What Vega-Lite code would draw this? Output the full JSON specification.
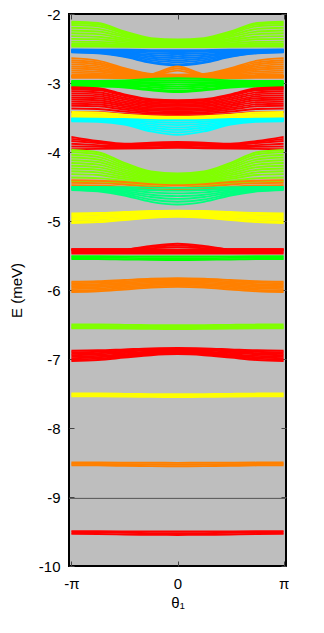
{
"$schema": "https://vega.github.io/schema/vega-lite/v6.json",
"width": 217, "height": 552,
"autosize": {"type": "none"},
"padding": {"left": 69, "top": 14, "right": 38, "bottom": 67},
"background": "white",
"config": {
  "view": {"fill": "#bebebe", "stroke": "#000", "strokeWidth": 2},
  "font": "Liberation Sans",
  "axis": {"grid": false, "domain": false, "tickColor": "#444", "tickSize": 5, "tickWidth": 1, "labelFontSize": 15, "labelColor": "#000", "titleFontSize": 15, "titleFontWeight": "normal", "titleColor": "#000", "labelFont": "Liberation Sans", "titleFont": "Liberation Sans"}
},
"datasets": {
"zero": [{"E": -9.02}],
"bands": [
{"k":"T1","band":"chartreuse","a":-2.11,"b":-2.131,"c":-2.253,"d":-2.349,"e":-2.37,"f":-2.349,"g":-2.253,"h":-2.131,"i":-2.11},
{"k":"T2","band":"chartreuse","a":-2.13,"b":-2.15,"c":-2.268,"d":-2.36,"e":-2.38,"f":-2.36,"g":-2.268,"h":-2.15,"i":-2.13},
{"k":"T3","band":"chartreuse","a":-2.16,"b":-2.178,"c":-2.286,"d":-2.372,"e":-2.39,"f":-2.372,"g":-2.286,"h":-2.178,"i":-2.16},
{"k":"T4","band":"chartreuse","a":-2.2,"b":-2.216,"c":-2.31,"d":-2.384,"e":-2.4,"f":-2.384,"g":-2.31,"h":-2.216,"i":-2.2},
{"k":"T5","band":"chartreuse","a":-2.24,"b":-2.254,"c":-2.33,"d":-2.396,"e":-2.41,"f":-2.396,"g":-2.33,"h":-2.254,"i":-2.24},
{"k":"T6","band":"chartreuse","a":-2.28,"b":-2.291,"c":-2.357,"d":-2.409,"e":-2.42,"f":-2.409,"g":-2.357,"h":-2.291,"i":-2.28},
{"k":"T7","band":"chartreuse","a":-2.32,"b":-2.329,"c":-2.38,"d":-2.421,"e":-2.43,"f":-2.421,"g":-2.38,"h":-2.329,"i":-2.32},
{"k":"T8","band":"chartreuse","a":-2.36,"b":-2.366,"c":-2.404,"d":-2.434,"e":-2.44,"f":-2.434,"g":-2.404,"h":-2.366,"i":-2.36},
{"k":"T9","band":"chartreuse","a":-2.4,"b":-2.404,"c":-2.428,"d":-2.446,"e":-2.45,"f":-2.446,"g":-2.428,"h":-2.404,"i":-2.4},
{"k":"T10","band":"chartreuse","a":-2.43,"b":-2.432,"c":-2.45,"d":-2.458,"e":-2.46,"f":-2.458,"g":-2.45,"h":-2.432,"i":-2.43},
{"k":"T11","band":"chartreuse","a":-2.45,"b":-2.452,"c":-2.461,"d":-2.468,"e":-2.47,"f":-2.468,"g":-2.461,"h":-2.452,"i":-2.45},
{"k":"T12","band":"chartreuse","a":-2.47,"b":-2.471,"c":-2.475,"d":-2.479,"e":-2.48,"f":-2.479,"g":-2.475,"h":-2.471,"i":-2.47},
{"k":"B1","band":"azure","a":-2.515,"b":-2.516,"c":-2.519,"d":-2.523,"e":-2.525,"f":-2.523,"g":-2.519,"h":-2.516,"i":-2.515},
{"k":"B2","band":"azure","a":-2.52,"b":-2.522,"c":-2.531,"d":-2.544,"e":-2.55,"f":-2.544,"g":-2.531,"h":-2.522,"i":-2.52},
{"k":"B3","band":"azure","a":-2.525,"b":-2.529,"c":-2.544,"d":-2.569,"e":-2.58,"f":-2.569,"g":-2.544,"h":-2.529,"i":-2.525},
{"k":"B4","band":"azure","a":-2.53,"b":-2.536,"c":-2.558,"d":-2.594,"e":-2.61,"f":-2.594,"g":-2.558,"h":-2.536,"i":-2.53},
{"k":"B5","band":"azure","a":-2.535,"b":-2.543,"c":-2.572,"d":-2.619,"e":-2.64,"f":-2.619,"g":-2.572,"h":-2.543,"i":-2.535},
{"k":"B6","band":"azure","a":-2.54,"b":-2.55,"c":-2.586,"d":-2.644,"e":-2.67,"f":-2.644,"g":-2.586,"h":-2.55,"i":-2.54},
{"k":"B7","band":"azure","a":-2.545,"b":-2.557,"c":-2.599,"d":-2.669,"e":-2.7,"f":-2.669,"g":-2.599,"h":-2.557,"i":-2.545},
{"k":"B8","band":"azure","a":-2.55,"b":-2.564,"c":-2.613,"d":-2.694,"e":-2.73,"f":-2.694,"g":-2.613,"h":-2.564,"i":-2.55},
{"k":"B9","band":"azure","a":-2.555,"b":-2.57,"c":-2.622,"d":-2.707,"e":-2.745,"f":-2.707,"g":-2.622,"h":-2.57,"i":-2.555},
{"k":"O1","band":"orange","a":-2.64,"b":-2.676,"c":-2.784,"d":-2.868,"e":-2.88,"f":-2.868,"g":-2.784,"h":-2.676,"i":-2.64},
{"k":"O2","band":"orange","a":-2.67,"b":-2.702,"c":-2.799,"d":-2.874,"e":-2.885,"f":-2.874,"g":-2.799,"h":-2.702,"i":-2.67},
{"k":"O3","band":"orange","a":-2.7,"b":-2.729,"c":-2.814,"d":-2.881,"e":-2.89,"f":-2.881,"g":-2.814,"h":-2.729,"i":-2.7},
{"k":"O4","band":"orange","a":-2.73,"b":-2.755,"c":-2.829,"d":-2.887,"e":-2.895,"f":-2.887,"g":-2.829,"h":-2.755,"i":-2.73},
{"k":"O5","band":"orange","a":-2.76,"b":-2.781,"c":-2.844,"d":-2.893,"e":-2.9,"f":-2.893,"g":-2.844,"h":-2.781,"i":-2.76},
{"k":"O6","band":"orange","a":-2.79,"b":-2.807,"c":-2.859,"d":-2.899,"e":-2.905,"f":-2.899,"g":-2.859,"h":-2.807,"i":-2.79},
{"k":"O7","band":"orange","a":-2.82,"b":-2.834,"c":-2.874,"d":-2.906,"e":-2.91,"f":-2.906,"g":-2.874,"h":-2.834,"i":-2.82},
{"k":"O8","band":"orange","a":-2.85,"b":-2.86,"c":-2.889,"d":-2.912,"e":-2.915,"f":-2.912,"g":-2.889,"h":-2.86,"i":-2.85},
{"k":"O9","band":"orange","a":-2.88,"b":-2.885,"c":-2.9,"d":-2.915,"e":-2.92,"f":-2.915,"g":-2.9,"h":-2.885,"i":-2.88},
{"k":"O10","band":"orange","a":-2.9,"b":-2.905,"c":-2.915,"d":-2.925,"e":-2.925,"f":-2.925,"g":-2.915,"h":-2.905,"i":-2.9},
{"k":"O11","band":"orange","a":-2.925,"b":-2.925,"c":-2.93,"d":-2.935,"e":-2.935,"f":-2.935,"g":-2.93,"h":-2.925,"i":-2.925},
{"k":"OC1","band":"orange","a":-2.9,"b":-2.9,"c":-2.9,"d":-2.875,"e":-2.76,"f":-2.875,"g":-2.9,"h":-2.9,"i":-2.9},
{"k":"OC2","band":"orange","a":-2.905,"b":-2.905,"c":-2.905,"d":-2.885,"e":-2.79,"f":-2.885,"g":-2.905,"h":-2.905,"i":-2.905},
{"k":"OC3","band":"orange","a":-2.91,"b":-2.91,"c":-2.91,"d":-2.895,"e":-2.82,"f":-2.895,"g":-2.91,"h":-2.91,"i":-2.91},
{"k":"G1","band":"green","a":-2.97,"b":-2.969,"c":-2.962,"d":-2.942,"e":-2.93,"f":-2.942,"g":-2.962,"h":-2.969,"i":-2.97},
{"k":"G2","band":"green","a":-2.98,"b":-2.979,"c":-2.976,"d":-2.966,"e":-2.96,"f":-2.966,"g":-2.976,"h":-2.979,"i":-2.98},
{"k":"G3","band":"green","a":-2.99,"b":-2.99,"c":-2.99,"d":-2.99,"e":-2.99,"f":-2.99,"g":-2.99,"h":-2.99,"i":-2.99},
{"k":"G4","band":"green","a":-3.0,"b":-3.001,"c":-3.004,"d":-3.014,"e":-3.02,"f":-3.014,"g":-3.004,"h":-3.001,"i":-3.0},
{"k":"G5","band":"green","a":-3.01,"b":-3.011,"c":-3.018,"d":-3.038,"e":-3.05,"f":-3.038,"g":-3.018,"h":-3.011,"i":-3.01},
{"k":"G6","band":"green","a":-3.02,"b":-3.022,"c":-3.032,"d":-3.062,"e":-3.08,"f":-3.062,"g":-3.032,"h":-3.022,"i":-3.02},
{"k":"G7","band":"green","a":-3.035,"b":-3.037,"c":-3.05,"d":-3.088,"e":-3.11,"f":-3.088,"g":-3.05,"h":-3.037,"i":-3.035},
{"k":"G8","band":"green","a":-3.05,"b":-3.052,"c":-3.066,"d":-3.106,"e":-3.13,"f":-3.106,"g":-3.066,"h":-3.052,"i":-3.05},
{"k":"R0","band":"red","a":-3.06,"b":-3.075,"c":-3.165,"d":-3.235,"e":-3.25,"f":-3.235,"g":-3.165,"h":-3.075,"i":-3.06},
{"k":"R1","band":"red","a":-3.075,"b":-3.09,"c":-3.177,"d":-3.245,"e":-3.26,"f":-3.245,"g":-3.177,"h":-3.09,"i":-3.075},
{"k":"R2","band":"red","a":-3.09,"b":-3.104,"c":-3.189,"d":-3.256,"e":-3.27,"f":-3.256,"g":-3.189,"h":-3.104,"i":-3.09},
{"k":"R3","band":"red","a":-3.12,"b":-3.134,"c":-3.214,"d":-3.276,"e":-3.29,"f":-3.276,"g":-3.214,"h":-3.134,"i":-3.12},
{"k":"R4","band":"red","a":-3.15,"b":-3.163,"c":-3.238,"d":-3.297,"e":-3.31,"f":-3.297,"g":-3.238,"h":-3.163,"i":-3.15},
{"k":"R5","band":"red","a":-3.18,"b":-3.192,"c":-3.263,"d":-3.318,"e":-3.33,"f":-3.318,"g":-3.263,"h":-3.192,"i":-3.18},
{"k":"R6","band":"red","a":-3.21,"b":-3.221,"c":-3.287,"d":-3.339,"e":-3.35,"f":-3.339,"g":-3.287,"h":-3.221,"i":-3.21},
{"k":"R7","band":"red","a":-3.24,"b":-3.25,"c":-3.312,"d":-3.36,"e":-3.37,"f":-3.36,"g":-3.312,"h":-3.25,"i":-3.24},
{"k":"R8","band":"red","a":-3.27,"b":-3.28,"c":-3.336,"d":-3.38,"e":-3.39,"f":-3.38,"g":-3.336,"h":-3.28,"i":-3.27},
{"k":"R9","band":"red","a":-3.3,"b":-3.309,"c":-3.36,"d":-3.4,"e":-3.41,"f":-3.4,"g":-3.36,"h":-3.309,"i":-3.3},
{"k":"R10","band":"red","a":-3.33,"b":-3.338,"c":-3.385,"d":-3.422,"e":-3.43,"f":-3.422,"g":-3.385,"h":-3.338,"i":-3.33},
{"k":"R11","band":"red","a":-3.37,"b":-3.376,"c":-3.414,"d":-3.444,"e":-3.45,"f":-3.444,"g":-3.414,"h":-3.376,"i":-3.37},
{"k":"R12","band":"red","a":-3.42,"b":-3.424,"c":-3.448,"d":-3.466,"e":-3.47,"f":-3.466,"g":-3.448,"h":-3.424,"i":-3.42},
{"k":"Y1","band":"yellow","a":-3.42,"b":-3.427,"c":-3.459,"d":-3.48,"e":-3.49,"f":-3.48,"g":-3.459,"h":-3.427,"i":-3.42},
{"k":"Y2","band":"yellow","a":-3.445,"b":-3.451,"c":-3.478,"d":-3.496,"e":-3.505,"f":-3.496,"g":-3.478,"h":-3.451,"i":-3.445},
{"k":"Y3","band":"yellow","a":-3.47,"b":-3.475,"c":-3.498,"d":-3.513,"e":-3.52,"f":-3.513,"g":-3.498,"h":-3.475,"i":-3.47},
{"k":"Y4","band":"yellow","a":-3.49,"b":-3.495,"c":-3.515,"d":-3.528,"e":-3.535,"f":-3.528,"g":-3.515,"h":-3.495,"i":-3.49},
{"k":"C1","band":"cyan","a":-3.515,"b":-3.516,"c":-3.521,"d":-3.534,"e":-3.54,"f":-3.534,"g":-3.521,"h":-3.516,"i":-3.515},
{"k":"C2","band":"cyan","a":-3.52,"b":-3.522,"c":-3.534,"d":-3.561,"e":-3.575,"f":-3.561,"g":-3.534,"h":-3.522,"i":-3.52},
{"k":"C3","band":"cyan","a":-3.525,"b":-3.528,"c":-3.546,"d":-3.589,"e":-3.61,"f":-3.589,"g":-3.546,"h":-3.528,"i":-3.525},
{"k":"C4","band":"cyan","a":-3.53,"b":-3.534,"c":-3.559,"d":-3.616,"e":-3.645,"f":-3.616,"g":-3.559,"h":-3.534,"i":-3.53},
{"k":"C5","band":"cyan","a":-3.54,"b":-3.544,"c":-3.575,"d":-3.645,"e":-3.68,"f":-3.645,"g":-3.575,"h":-3.544,"i":-3.54},
{"k":"C6","band":"cyan","a":-3.545,"b":-3.55,"c":-3.588,"d":-3.673,"e":-3.715,"f":-3.673,"g":-3.588,"h":-3.55,"i":-3.545},
{"k":"C7","band":"cyan","a":-3.555,"b":-3.561,"c":-3.601,"d":-3.701,"e":-3.75,"f":-3.701,"g":-3.601,"h":-3.561,"i":-3.555},
{"k":"S1","band":"red","a":-3.78,"b":-3.84,"c":-3.88,"d":-3.865,"e":-3.855,"f":-3.865,"g":-3.88,"h":-3.84,"i":-3.78},
{"k":"S2","band":"red","a":-3.81,"b":-3.855,"c":-3.89,"d":-3.88,"e":-3.87,"f":-3.88,"g":-3.89,"h":-3.855,"i":-3.81},
{"k":"S3","band":"red","a":-3.84,"b":-3.87,"c":-3.9,"d":-3.895,"e":-3.89,"f":-3.895,"g":-3.9,"h":-3.87,"i":-3.84},
{"k":"S4","band":"red","a":-3.88,"b":-3.9,"c":-3.915,"d":-3.91,"e":-3.905,"f":-3.91,"g":-3.915,"h":-3.9,"i":-3.88},
{"k":"S5","band":"red","a":-3.92,"b":-3.925,"c":-3.93,"d":-3.93,"e":-3.925,"f":-3.93,"g":-3.93,"h":-3.925,"i":-3.92},
{"k":"S6","band":"red","a":-3.96,"b":-3.955,"c":-3.95,"d":-3.945,"e":-3.94,"f":-3.945,"g":-3.95,"h":-3.955,"i":-3.96},
{"k":"U1","band":"chartreuse","a":-3.97,"b":-4.004,"c":-4.157,"d":-4.283,"e":-4.31,"f":-4.283,"g":-4.157,"h":-4.004,"i":-3.97},
{"k":"U2","band":"chartreuse","a":-4.0,"b":-4.033,"c":-4.179,"d":-4.299,"e":-4.325,"f":-4.299,"g":-4.179,"h":-4.033,"i":-4.0},
{"k":"U3","band":"chartreuse","a":-4.04,"b":-4.07,"c":-4.205,"d":-4.316,"e":-4.34,"f":-4.316,"g":-4.205,"h":-4.07,"i":-4.04},
{"k":"U4","band":"chartreuse","a":-4.08,"b":-4.108,"c":-4.231,"d":-4.333,"e":-4.355,"f":-4.333,"g":-4.231,"h":-4.108,"i":-4.08},
{"k":"U5","band":"chartreuse","a":-4.12,"b":-4.145,"c":-4.258,"d":-4.35,"e":-4.37,"f":-4.35,"g":-4.258,"h":-4.145,"i":-4.12},
{"k":"U6","band":"chartreuse","a":-4.16,"b":-4.183,"c":-4.284,"d":-4.367,"e":-4.385,"f":-4.367,"g":-4.284,"h":-4.183,"i":-4.16},
{"k":"U7","band":"chartreuse","a":-4.2,"b":-4.22,"c":-4.31,"d":-4.384,"e":-4.4,"f":-4.384,"g":-4.31,"h":-4.22,"i":-4.2},
{"k":"U8","band":"chartreuse","a":-4.24,"b":-4.258,"c":-4.336,"d":-4.401,"e":-4.415,"f":-4.401,"g":-4.336,"h":-4.258,"i":-4.24},
{"k":"U9","band":"chartreuse","a":-4.28,"b":-4.295,"c":-4.363,"d":-4.418,"e":-4.43,"f":-4.418,"g":-4.363,"h":-4.295,"i":-4.28},
{"k":"U10","band":"chartreuse","a":-4.32,"b":-4.333,"c":-4.389,"d":-4.435,"e":-4.445,"f":-4.435,"g":-4.389,"h":-4.333,"i":-4.32},
{"k":"U11","band":"chartreuse","a":-4.37,"b":-4.379,"c":-4.42,"d":-4.453,"e":-4.46,"f":-4.453,"g":-4.42,"h":-4.379,"i":-4.37},
{"k":"U12","band":"chartreuse","a":-4.42,"b":-4.426,"c":-4.453,"d":-4.475,"e":-4.48,"f":-4.475,"g":-4.453,"h":-4.426,"i":-4.42},
{"k":"P1","band":"orange","a":-4.41,"b":-4.416,"c":-4.435,"d":-4.466,"e":-4.48,"f":-4.466,"g":-4.435,"h":-4.416,"i":-4.41},
{"k":"P2","band":"orange","a":-4.445,"b":-4.451,"c":-4.47,"d":-4.501,"e":-4.515,"f":-4.501,"g":-4.47,"h":-4.451,"i":-4.445},
{"k":"P3","band":"orange","a":-4.48,"b":-4.486,"c":-4.505,"d":-4.536,"e":-4.55,"f":-4.536,"g":-4.505,"h":-4.486,"i":-4.48},
{"k":"SP1","band":"spring","a":-4.505,"b":-4.507,"c":-4.511,"d":-4.517,"e":-4.52,"f":-4.517,"g":-4.511,"h":-4.507,"i":-4.505},
{"k":"SP2","band":"spring","a":-4.51,"b":-4.515,"c":-4.529,"d":-4.551,"e":-4.56,"f":-4.551,"g":-4.529,"h":-4.515,"i":-4.51},
{"k":"SP3","band":"spring","a":-4.515,"b":-4.524,"c":-4.547,"d":-4.585,"e":-4.6,"f":-4.585,"g":-4.547,"h":-4.524,"i":-4.515},
{"k":"SP4","band":"spring","a":-4.525,"b":-4.537,"c":-4.569,"d":-4.619,"e":-4.64,"f":-4.619,"g":-4.569,"h":-4.537,"i":-4.525},
{"k":"SP5","band":"spring","a":-4.53,"b":-4.545,"c":-4.587,"d":-4.653,"e":-4.68,"f":-4.653,"g":-4.587,"h":-4.545,"i":-4.53},
{"k":"SP6","band":"spring","a":-4.54,"b":-4.558,"c":-4.608,"d":-4.688,"e":-4.72,"f":-4.688,"g":-4.608,"h":-4.558,"i":-4.54},
{"k":"SP7","band":"spring","a":-4.55,"b":-4.571,"c":-4.63,"d":-4.722,"e":-4.76,"f":-4.722,"g":-4.63,"h":-4.571,"i":-4.55},
{"k":"V1","band":"yellow","a":-4.89,"b":-4.884,"c":-4.87,"d":-4.856,"e":-4.85,"f":-4.856,"g":-4.87,"h":-4.884,"i":-4.89},
{"k":"V2","band":"yellow","a":-4.913,"b":-4.906,"c":-4.889,"d":-4.872,"e":-4.865,"f":-4.872,"g":-4.889,"h":-4.906,"i":-4.913},
{"k":"V3","band":"yellow","a":-4.937,"b":-4.929,"c":-4.909,"d":-4.889,"e":-4.88,"f":-4.889,"g":-4.909,"h":-4.929,"i":-4.937},
{"k":"V4","band":"yellow","a":-4.96,"b":-4.95,"c":-4.928,"d":-4.905,"e":-4.895,"f":-4.905,"g":-4.928,"h":-4.95,"i":-4.96},
{"k":"V5","band":"yellow","a":-4.983,"b":-4.972,"c":-4.947,"d":-4.921,"e":-4.91,"f":-4.921,"g":-4.947,"h":-4.972,"i":-4.983},
{"k":"V6","band":"yellow","a":-5.007,"b":-4.995,"c":-4.966,"d":-4.937,"e":-4.925,"f":-4.937,"g":-4.966,"h":-4.995,"i":-5.007},
{"k":"V7","band":"yellow","a":-5.03,"b":-5.017,"c":-4.985,"d":-4.954,"e":-4.94,"f":-4.954,"g":-4.985,"h":-5.017,"i":-5.03},
{"k":"RB1","band":"red","a":-5.41,"b":-5.41,"c":-5.41,"d":-5.36,"e":-5.33,"f":-5.36,"g":-5.41,"h":-5.41,"i":-5.41},
{"k":"RB2","band":"red","a":-5.41,"b":-5.41,"c":-5.41,"d":-5.375,"e":-5.355,"f":-5.375,"g":-5.41,"h":-5.41,"i":-5.41},
{"k":"RB3","band":"red","a":-5.42,"b":-5.42,"c":-5.42,"d":-5.395,"e":-5.38,"f":-5.395,"g":-5.42,"h":-5.42,"i":-5.42},
{"k":"RF0","band":"red","a":-5.415,"b":-5.415,"c":-5.415,"d":-5.415,"e":-5.415,"f":-5.415,"g":-5.415,"h":-5.415,"i":-5.415},
{"k":"RF1","band":"red","a":-5.435,"b":-5.435,"c":-5.435,"d":-5.435,"e":-5.435,"f":-5.435,"g":-5.435,"h":-5.435,"i":-5.435},
{"k":"RF2","band":"red","a":-5.455,"b":-5.455,"c":-5.455,"d":-5.455,"e":-5.455,"f":-5.455,"g":-5.455,"h":-5.455,"i":-5.455},
{"k":"RF3","band":"red","a":-5.47,"b":-5.47,"c":-5.47,"d":-5.47,"e":-5.47,"f":-5.47,"g":-5.47,"h":-5.47,"i":-5.47},
{"k":"GA","band":"green","a":-5.51,"b":-5.511,"c":-5.512,"d":-5.514,"e":-5.515,"f":-5.514,"g":-5.512,"h":-5.511,"i":-5.51},
{"k":"GB","band":"green","a":-5.53,"b":-5.531,"c":-5.535,"d":-5.539,"e":-5.54,"f":-5.539,"g":-5.535,"h":-5.531,"i":-5.53},
{"k":"GC","band":"green","a":-5.55,"b":-5.551,"c":-5.557,"d":-5.563,"e":-5.565,"f":-5.563,"g":-5.557,"h":-5.551,"i":-5.55},
{"k":"Q1","band":"orange","a":-5.88,"b":-5.873,"c":-5.855,"d":-5.838,"e":-5.83,"f":-5.838,"g":-5.855,"h":-5.873,"i":-5.88},
{"k":"Q2","band":"orange","a":-5.901,"b":-5.893,"c":-5.875,"d":-5.856,"e":-5.848,"f":-5.856,"g":-5.875,"h":-5.893,"i":-5.901},
{"k":"Q3","band":"orange","a":-5.923,"b":-5.915,"c":-5.895,"d":-5.875,"e":-5.866,"f":-5.875,"g":-5.895,"h":-5.915,"i":-5.923},
{"k":"Q4","band":"orange","a":-5.944,"b":-5.935,"c":-5.914,"d":-5.893,"e":-5.884,"f":-5.893,"g":-5.914,"h":-5.935,"i":-5.944},
{"k":"Q5","band":"orange","a":-5.966,"b":-5.956,"c":-5.934,"d":-5.912,"e":-5.902,"f":-5.912,"g":-5.934,"h":-5.956,"i":-5.966},
{"k":"Q6","band":"orange","a":-5.987,"b":-5.977,"c":-5.953,"d":-5.929,"e":-5.919,"f":-5.929,"g":-5.953,"h":-5.977,"i":-5.987},
{"k":"Q7","band":"orange","a":-6.009,"b":-5.998,"c":-5.973,"d":-5.948,"e":-5.937,"f":-5.948,"g":-5.973,"h":-5.998,"i":-6.009},
{"k":"Q8","band":"orange","a":-6.03,"b":-6.019,"c":-5.993,"d":-5.966,"e":-5.955,"f":-5.966,"g":-5.993,"h":-6.019,"i":-6.03},
{"k":"LA","band":"chartreuse","a":-6.5,"b":-6.501,"c":-6.505,"d":-6.509,"e":-6.51,"f":-6.509,"g":-6.505,"h":-6.501,"i":-6.5},
{"k":"LB","band":"chartreuse","a":-6.52,"b":-6.521,"c":-6.525,"d":-6.529,"e":-6.53,"f":-6.529,"g":-6.525,"h":-6.521,"i":-6.52},
{"k":"LC","band":"chartreuse","a":-6.54,"b":-6.541,"c":-6.545,"d":-6.549,"e":-6.55,"f":-6.549,"g":-6.545,"h":-6.541,"i":-6.54},
{"k":"LD","band":"chartreuse","a":-6.555,"b":-6.556,"c":-6.56,"d":-6.564,"e":-6.565,"f":-6.564,"g":-6.56,"h":-6.556,"i":-6.555},
{"k":"W1","band":"red","a":-6.88,"b":-6.874,"c":-6.86,"d":-6.846,"e":-6.84,"f":-6.846,"g":-6.86,"h":-6.874,"i":-6.88},
{"k":"W2","band":"red","a":-6.901,"b":-6.894,"c":-6.877,"d":-6.86,"e":-6.853,"f":-6.86,"g":-6.877,"h":-6.894,"i":-6.901},
{"k":"W3","band":"red","a":-6.923,"b":-6.915,"c":-6.895,"d":-6.875,"e":-6.866,"f":-6.875,"g":-6.895,"h":-6.915,"i":-6.923},
{"k":"W4","band":"red","a":-6.944,"b":-6.934,"c":-6.912,"d":-6.889,"e":-6.879,"f":-6.889,"g":-6.912,"h":-6.934,"i":-6.944},
{"k":"W5","band":"red","a":-6.966,"b":-6.955,"c":-6.929,"d":-6.902,"e":-6.891,"f":-6.902,"g":-6.929,"h":-6.955,"i":-6.966},
{"k":"W6","band":"red","a":-6.987,"b":-6.975,"c":-6.946,"d":-6.917,"e":-6.904,"f":-6.917,"g":-6.946,"h":-6.975,"i":-6.987},
{"k":"W7","band":"red","a":-7.009,"b":-6.995,"c":-6.963,"d":-6.931,"e":-6.917,"f":-6.931,"g":-6.963,"h":-6.995,"i":-7.009},
{"k":"W8","band":"red","a":-7.03,"b":-7.015,"c":-6.98,"d":-6.945,"e":-6.93,"f":-6.945,"g":-6.98,"h":-7.015,"i":-7.03},
{"k":"YA","band":"yellow","a":-7.5,"b":-7.501,"c":-7.505,"d":-7.509,"e":-7.51,"f":-7.509,"g":-7.505,"h":-7.501,"i":-7.5},
{"k":"YB","band":"yellow","a":-7.52,"b":-7.521,"c":-7.525,"d":-7.529,"e":-7.53,"f":-7.529,"g":-7.525,"h":-7.521,"i":-7.52},
{"k":"YC","band":"yellow","a":-7.54,"b":-7.541,"c":-7.545,"d":-7.549,"e":-7.55,"f":-7.549,"g":-7.545,"h":-7.541,"i":-7.54},
{"k":"OA","band":"orange","a":-8.5,"b":-8.501,"c":-8.503,"d":-8.504,"e":-8.505,"f":-8.504,"g":-8.503,"h":-8.501,"i":-8.5},
{"k":"OB","band":"orange","a":-8.52,"b":-8.521,"c":-8.525,"d":-8.529,"e":-8.53,"f":-8.529,"g":-8.525,"h":-8.521,"i":-8.52},
{"k":"OC","band":"orange","a":-8.54,"b":-8.542,"c":-8.548,"d":-8.553,"e":-8.555,"f":-8.553,"g":-8.548,"h":-8.542,"i":-8.54},
{"k":"ZA","band":"red","a":-9.495,"b":-9.496,"c":-9.498,"d":-9.499,"e":-9.5,"f":-9.499,"g":-9.498,"h":-9.496,"i":-9.495},
{"k":"ZB","band":"red","a":-9.515,"b":-9.517,"c":-9.52,"d":-9.524,"e":-9.525,"f":-9.524,"g":-9.52,"h":-9.517,"i":-9.515},
{"k":"ZC","band":"red","a":-9.535,"b":-9.537,"c":-9.543,"d":-9.548,"e":-9.55,"f":-9.548,"g":-9.543,"h":-9.537,"i":-9.535}
]
},
"layer": [
  {
    "data": {"name": "bands"},
    "transform": [{"fold": ["a","b","c","d","e","f","g","h","i"], "as": ["t","E"]}],
    "mark": {"type": "line", "interpolate": "monotone", "strokeWidth": 1.9, "clip": true},
    "encoding": {
      "x": {"field": "t", "type": "ordinal", "scale": {"type": "point", "domain": ["a","b","c","d","e","f","g","h","i"], "padding": 0.09},
            "axis": {"orient": "bottom", "ticks": false, "values": ["a","e","i"], "labelExpr": "datum.value == 'a' ? '-π' : datum.value == 'e' ? '0' : 'π'", "labelAngle": 0, "labelPadding": 10, "title": "θ₁", "titlePadding": 4}},
      "y": {"field": "E", "type": "quantitative", "scale": {"domain": [-10, -2], "nice": false, "zero": false},
            "axis": {"orient": "left", "ticks": false, "values": [-2,-3,-4,-5,-6,-7,-8,-9,-10], "labelExpr": "'' + datum.value", "labelPadding": 9, "title": "E (meV)", "titlePadding": 14}},
      "color": {"field": "band", "type": "nominal", "legend": null,
                "scale": {"domain": ["red","orange","yellow","chartreuse","green","spring","cyan","azure"], "range": ["#ff0000","#ff8000","#ffff00","#80ff00","#00ff00","#00ff80","#00ffff","#0080ff"]}},
      "detail": {"field": "k", "type": "nominal"}
    }
  },
  {
    "data": {"name": "zero"},
    "mark": {"type": "rule", "color": "#555555", "strokeWidth": 1},
    "encoding": {"y": {"field": "E", "type": "quantitative", "axis": null}}
  },
  {
    "data": {"name": "bands"},
    "transform": [{"fold": ["a","b","c","d","e","f","g","h","i"], "as": ["t","E"]}],
    "mark": {"type": "point", "opacity": 0},
    "encoding": {
      "x": {"field": "t", "type": "ordinal", "axis": {"orient": "top", "offset": -552, "values": ["a","e","i"], "labels": false, "title": null}},
      "y": {"field": "E", "type": "quantitative", "axis": {"orient": "right", "offset": -217, "values": [-2,-3,-4,-5,-6,-7,-8,-9,-10], "labels": false, "title": null}}
    }
  },
  {
    "data": {"name": "bands"},
    "transform": [{"fold": ["a","b","c","d","e","f","g","h","i"], "as": ["t","E"]}],
    "mark": {"type": "point", "opacity": 0},
    "encoding": {
      "x": {"field": "t", "type": "ordinal", "axis": {"orient": "bottom", "offset": -552, "values": ["a","e","i"], "labels": false, "title": null}},
      "y": {"field": "E", "type": "quantitative", "axis": {"orient": "left", "offset": -217, "values": [-2,-3,-4,-5,-6,-7,-8,-9,-10], "labels": false, "title": null}}
    }
  }
],
"resolve": {"axis": {"x": "independent", "y": "independent"}}
}
